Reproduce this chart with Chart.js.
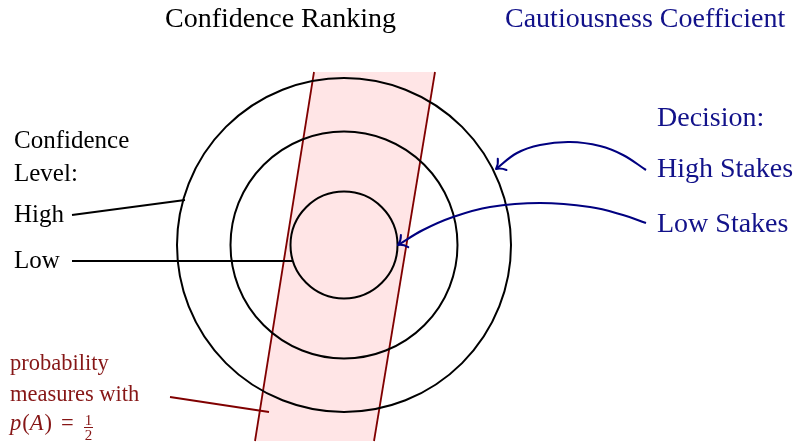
<!DOCTYPE html>
<html>
<head>
<meta charset="utf-8">
<script src="https://cdn.jsdelivr.net/npm/chart.js@4.4.1/dist/chart.umd.min.js"></script>
<style>
  html, body { margin: 0; padding: 0; background: #fff; }
  #wrap { width: 796px; height: 445px; }
</style>
</head>
<body>
<div id="wrap"><canvas id="diagram" width="796" height="445"></canvas></div>
<script>
// diagram geometry, in canvas units (x right, y down)
const ringCenter = { x: 344, y: 245 };
const ringRadii = [167, 113.5, 53.5];
const bandShape = [{ x: 314, y: 72 }, { x: 435, y: 72 }, { x: 374, y: 441 }, { x: 255, y: 441 }];
const bandLeft = [{ x: 314, y: 72 }, { x: 255, y: 441 }];
const bandRight = [{ x: 435, y: 72 }, { x: 374, y: 441 }];
const highPointer = [{ x: 72, y: 215 }, { x: 185, y: 200 }];
const lowPointer = [{ x: 72, y: 261 }, { x: 292, y: 261 }];
const probPointer = [{ x: 170, y: 397 }, { x: 269, y: 412 }];
const highStakesCurve = [
  { x: 646, y: 170 }, { x: 623, y: 155 }, { x: 600, y: 146 }, { x: 570, y: 142 },
  { x: 540, y: 145 }, { x: 517, y: 153 }, { x: 496, y: 169 },
];
const lowStakesCurve = [
  { x: 646, y: 223 }, { x: 623, y: 215 }, { x: 590, y: 207 }, { x: 540, y: 203 },
  { x: 490, y: 207 }, { x: 453, y: 217 }, { x: 423, y: 230 }, { x: 398, y: 245 },
];

// texts
const titleLabels = ["Confidence Ranking", "Cautiousness Coefficient"];
const levelLabels = ["Confidence", "Level:", "High", "Low"];
const decisionLabels = ["Decision:", "High Stakes", "Low Stakes"];
const probLabels = ["probability", "measures with"];

// where the texts sit (left x, baseline y)
const titleAnchors = [[165, 27], [505, 27]];
const levelAnchors = [[14, 148], [14, 181], [14, 222], [14, 268]];
const decisionAnchors = [[657, 126], [657, 177], [657, 232]];
const probAnchors = [[10, 370], [10, 401]];

const SERIF = '"Liberation Serif", "Times New Roman", serif';
const BLACK = "#000000";
const DARKRED = "#800000";
const DARKRED_TEXT = "#861616";
const NAVY = "#000080";
const NAVY_TEXT = "#12128a";

const textPlugin = {
  id: "diagramText",
  afterDraw(chart) {
    const { ctx, scales } = chart;
    const px = (v) => scales.x.getPixelForValue(v);
    const py = (v) => scales.y.getPixelForValue(v);
    const put = (list, anchors, size, color) => {
      ctx.font = `${size}px ${SERIF}`;
      ctx.fillStyle = color;
      list.forEach((t, i) => ctx.fillText(t, px(anchors[i][0]), py(anchors[i][1])));
    };
    ctx.save();
    ctx.textBaseline = "alphabetic";
    ctx.textAlign = "left";
    put([titleLabels[0]], [titleAnchors[0]], 28, BLACK);
    put([titleLabels[1]], [titleAnchors[1]], 28, NAVY_TEXT);
    put(levelLabels, levelAnchors, 25, BLACK);
    put(decisionLabels, decisionAnchors, 28, NAVY_TEXT);
    put(probLabels, probAnchors, 22.5, DARKRED_TEXT);

    // p(A) = 1/2
    const runs = [["p", true], ["(", false], ["A", true], [")", false]];
    let cx = px(10);
    const base = py(430);
    ctx.fillStyle = DARKRED_TEXT;
    runs.forEach(([t, it]) => {
      ctx.font = `${it ? "italic " : ""}22.5px ${SERIF}`;
      ctx.fillText(t, cx, base);
      cx += ctx.measureText(t).width + (it ? 1 : 0);
    });
    ctx.font = `22.5px ${SERIF}`;
    ctx.fillText("=", px(61), base);
    ctx.font = `15px ${SERIF}`;
    const fx = px(88.5);
    ctx.textAlign = "center";
    ctx.fillText("1", fx, py(425));
    ctx.fillText("2", fx, py(439.5));
    ctx.strokeStyle = DARKRED_TEXT;
    ctx.lineWidth = 1;
    ctx.beginPath();
    ctx.moveTo(px(84), py(427.5));
    ctx.lineTo(px(93), py(427.5));
    ctx.stroke();
    ctx.restore();
  },
};

const arrowPlugin = {
  id: "arrowTips",
  afterDatasetsDraw(chart) {
    const { ctx } = chart;
    chart.data.datasets.forEach((ds, i) => {
      if (!ds.arrow) return;
      const pts = chart.getDatasetMeta(i).data;
      const tip = pts[pts.length - 1];
      const ang = Math.atan2(tip.y - tip.cp1y, tip.x - tip.cp1x);
      const len = 10.5, spread = 0.75;
      ctx.save();
      ctx.strokeStyle = ds.borderColor;
      ctx.lineWidth = 2;
      ctx.lineCap = "round";
      ctx.lineJoin = "round";
      ctx.beginPath();
      [-1, 1].forEach((s) => {
        const a = ang + Math.PI + s * spread;
        const ex = tip.x + Math.cos(a) * len;
        const ey = tip.y + Math.sin(a) * len;
        const mx = tip.x + Math.cos(ang + Math.PI + s * spread * 0.55) * len * 0.5;
        const my = tip.y + Math.sin(ang + Math.PI + s * spread * 0.55) * len * 0.5;
        ctx.moveTo(ex, ey);
        ctx.quadraticCurveTo(mx, my, tip.x, tip.y);
      });
      ctx.stroke();
      ctx.restore();
    });
  },
};

const segment = (data, color, width, extra = {}) => ({
  type: "line",
  data,
  borderColor: color,
  borderWidth: width,
  pointRadius: 0,
  tension: 0,
  fill: false,
  ...extra,
});

new Chart(document.getElementById("diagram"), {
  type: "scatter",
  data: {
    datasets: [
      segment(highStakesCurve, NAVY, 2.1, { tension: 0.4, arrow: true }),
      segment(lowStakesCurve, NAVY, 2.1, { tension: 0.4, arrow: true }),
      segment(highPointer, BLACK, 2),
      segment(lowPointer, BLACK, 2),
      segment(probPointer, DARKRED, 1.8),
      {
        type: "bubble",
        data: ringRadii.map((r) => ({ x: ringCenter.x, y: ringCenter.y, r })),
        backgroundColor: "rgba(0,0,0,0)",
        borderColor: BLACK,
        borderWidth: 2,
        hoverRadius: 0,
        clip: false,
      },
      segment(bandLeft, DARKRED, 1.8),
      segment(bandRight, DARKRED, 1.8),
      segment(bandShape, "rgba(0,0,0,0)", 0, { fill: "shape", backgroundColor: "rgb(255,229,230)" }),
    ],
  },
  options: {
    responsive: false,
    animation: false,
    events: [],
    layout: { padding: 0, autoPadding: false },
    scales: {
      x: { type: "linear", min: 0, max: 796, display: false },
      y: { type: "linear", min: 0, max: 445, reverse: true, display: false },
    },
    plugins: { legend: { display: false }, tooltip: { enabled: false } },
  },
  plugins: [arrowPlugin, textPlugin],
});
</script>
</body>
</html>
